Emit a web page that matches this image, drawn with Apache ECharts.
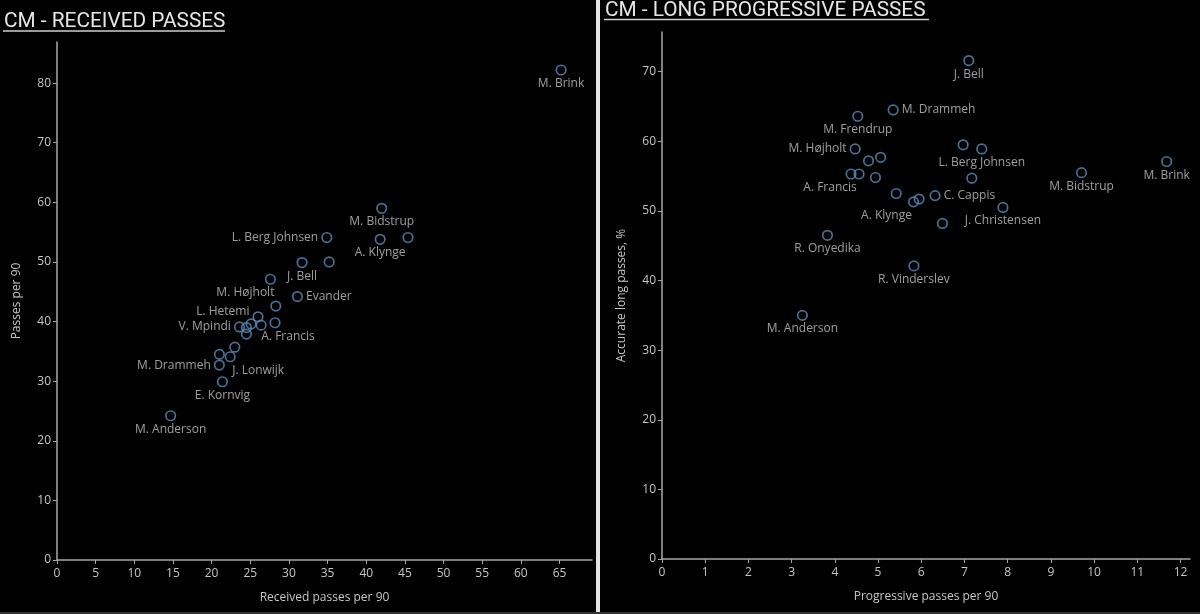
<!DOCTYPE html>
<html>
<head>
<meta charset="utf-8">
<script src="https://cdn.jsdelivr.net/npm/echarts@6.0.0/dist/echarts.min.js"></script>
<style>
  html, body { margin: 0; padding: 0; background: #000; }
  #chart { width: 1200px; height: 614px; }
</style>
</head>
<body>
<div id="chart"></div>
<script>
// Left chart: received passes
const leftNames = ["M. Brink", "M. Bidstrup", "L. Berg Johnsen", "A. Klynge", "", "J. Bell", "", "M. Højholt",
  "Evander", "", "L. Hetemi", "A. Francis", "", "", "V. Mpindi", "", "", "", "", "J. Lonwijk",
  "M. Drammeh", "E. Kornvig", "M. Anderson"];
const leftReceived = [65.2, 42.0, 34.9, 41.8, 45.4, 31.7, 35.2, 27.6, 31.1, 28.3, 26.0, 28.2, 26.4, 25.1,
  23.6, 24.5, 24.5, 23.0, 21.0, 22.4, 21.0, 21.4, 14.7];
const leftPasses = [82.2, 59.0, 54.1, 53.8, 54.1, 49.9, 50.0, 47.1, 44.2, 42.6, 40.8, 39.8, 39.4, 39.6,
  39.1, 39.0, 37.9, 35.7, 34.5, 34.1, 32.7, 29.9, 24.2];
const leftTicksX = [0, 5, 10, 15, 20, 25, 30, 35, 40, 45, 50, 55, 60, 65];
const leftTicksY = [0, 10, 20, 30, 40, 50, 60, 70, 80];

// Right chart: long progressive passes
const rightNames = ["J. Bell", "M. Drammeh", "M. Frendrup", "M. Højholt", "", "", "A. Francis", "", "", "",
  "A. Klynge", "", "C. Cappis", "", "", "L. Berg Johnsen", "", "J. Christensen", "R. Onyedika",
  "R. Vinderslev", "M. Anderson", "M. Bidstrup", "M. Brink"];
const rightProgressive = [7.1, 5.35, 4.53, 4.47, 4.78, 5.06, 4.375, 4.56, 4.94, 5.42, 5.82, 5.95, 6.32,
  6.49, 6.97, 7.40, 7.17, 7.89, 3.83, 5.83, 3.25, 9.71, 11.68];
const rightAccurate = [71.6, 64.5, 63.6, 58.9, 57.2, 57.7, 55.3, 55.3, 54.8, 52.5, 51.3, 51.7, 52.2,
  48.2, 59.5, 58.9, 54.7, 50.5, 46.5, 42.1, 35.0, 55.5, 57.1];
const rightTicksX = [0, 1, 2, 3, 4, 5, 6, 7, 8, 9, 10, 11, 12];
const rightTicksY = [0, 10, 20, 30, 40, 50, 60, 70];

// label placement per player: [position, dx, dy]
const leftLabelPos = {
  "M. Brink": ["bottom", 0, 0], "M. Bidstrup": ["bottom", 0, 0], "L. Berg Johnsen": ["left", 0, 0],
  "A. Klynge": ["bottom", 0, 0], "J. Bell": ["bottom", 0, 0], "M. Højholt": ["bottom", -25, 0],
  "Evander": ["right", 0, 0], "L. Hetemi": ["left", 0, -5], "V. Mpindi": ["left", 0, 0],
  "A. Francis": ["bottom", 13, 0], "M. Drammeh": ["left", 0, 0], "J. Lonwijk": ["bottom", 28, 0],
  "E. Kornvig": ["bottom", 0, 0], "M. Anderson": ["bottom", 0, 0]
};
const rightLabelPos = {
  "J. Bell": ["bottom", 0, 0], "M. Drammeh": ["right", 0, 0], "M. Frendrup": ["bottom", 0, 0],
  "M. Højholt": ["left", 0, 0], "A. Francis": ["bottom", -21, 0], "A. Klynge": ["bottom", -27, 0],
  "C. Cappis": ["right", 0, 0], "L. Berg Johnsen": ["bottom", 0, 0], "J. Christensen": ["bottom", 0, 0],
  "R. Onyedika": ["bottom", 0, 0], "R. Vinderslev": ["bottom", 0, 0], "M. Anderson": ["bottom", 0, 0],
  "M. Bidstrup": ["bottom", 0, 0], "M. Brink": ["bottom", 0, 0]
};

const axisColor = "#a8a8a8";
const textColor = "#c6c6c6";
const font = "Open Sans";

function buildPoints(names, xs, ys, placement) {
  return names.map((n, i) => {
    const p = placement[n];
    const item = { name: n, value: [xs[i], ys[i]] };
    if (p) {
      item.label = { show: true, position: p[0], offset: [p[1], p[2]], distance: p[0] === "bottom" ? 2 : 3 };
    }
    return item;
  });
}

function valueAxis(idx, min, max, ticks, name, gap, isY) {
  return {
    type: "value",
    gridIndex: idx,
    min: min,
    max: max,
    name: name,
    nameLocation: "middle",
    nameGap: gap,
    nameTextStyle: { color: textColor, fontSize: 12, fontFamily: font },
    axisLine: { show: true, onZero: false, lineStyle: { color: axisColor, width: 1.5 } },
    axisTick: { show: true, length: 4, customValues: ticks, lineStyle: { color: axisColor } },
    axisLabel: { customValues: ticks, color: textColor, fontSize: 12, fontFamily: font, margin: isY ? 6 : 8 },
    splitLine: { show: false }
  };
}

function scatter(idx, data) {
  return {
    type: "scatter",
    xAxisIndex: idx,
    yAxisIndex: idx,
    symbol: "circle",
    symbolSize: 9.5,
    itemStyle: { color: "rgba(0,0,0,0)", borderColor: "#5e8bbd", borderWidth: 1.7 },
    label: {
      show: false,
      formatter: "{b}",
      color: textColor,
      fontSize: 12,
      fontFamily: font
    },
    emphasis: { disabled: true },
    data: data
  };
}

const myChart = echarts.init(document.getElementById("chart"));

const titleStyle = { color: "#e6e6e6", fontSize: 20.8, fontWeight: "normal", fontFamily: "Roboto" };

const option = {
  backgroundColor: "#000",
  animation: false,
  title: [
    { text: "CM - RECEIVED PASSES", left: 4, top: 11, padding: 0, textStyle: titleStyle },
    { text: "CM - LONG PROGRESSIVE PASSES", left: 605, top: 0, padding: 0, textStyle: titleStyle }
  ],
  graphic: [
    // title underlines
    { type: "line", shape: { x1: 3, y1: 31, x2: 225, y2: 31 }, style: { stroke: "#cfcfcf", lineWidth: 1.5 } },
    { type: "line", shape: { x1: 604, y1: 19.5, x2: 929, y2: 19.5 }, style: { stroke: "#cfcfcf", lineWidth: 1.5 } },
    // divider between panels
    { type: "rect", shape: { x: 596, y: 0, width: 4, height: 614 }, style: { fill: "#e4e4e4" } },
    { type: "rect", shape: { x: 0, y: 612, width: 1200, height: 2 }, style: { fill: "#333" } }
  ],
  grid: [
    { left: 57, top: 42, width: 535, height: 518 },
    { left: 662, top: 32, width: 528, height: 527 }
  ],
  xAxis: [
    valueAxis(0, 0, 69.2, leftTicksX, "Received passes per 90", 32, false),
    valueAxis(1, 0, 12.22, rightTicksX, "Progressive passes per 90", 32, false)
  ],
  yAxis: [
    valueAxis(0, 0, 86.9, leftTicksY, "Passes per 90", 34, true),
    valueAxis(1, 0, 75.7, rightTicksY, "Accurate long passes, %", 34, true)
  ],
  series: [
    scatter(0, buildPoints(leftNames, leftReceived, leftPasses, leftLabelPos)),
    scatter(1, buildPoints(rightNames, rightProgressive, rightAccurate, rightLabelPos))
  ]
};

myChart.setOption(option);
</script>
</body>
</html>
